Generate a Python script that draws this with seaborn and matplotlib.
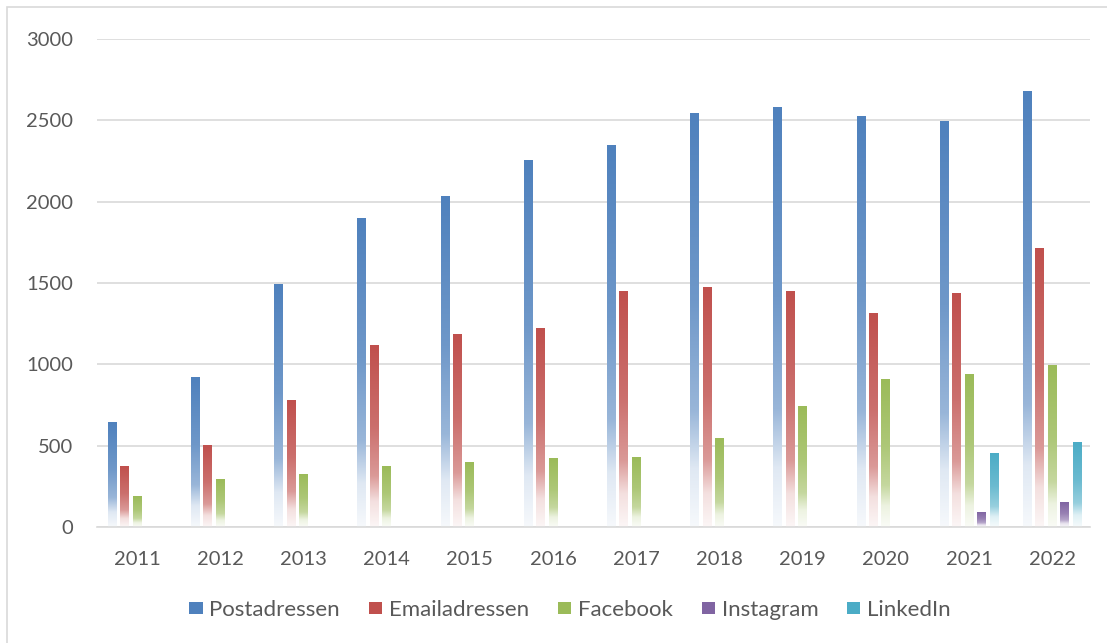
import numpy as np
import pandas as pd
import matplotlib
matplotlib.use('Agg')
import matplotlib.pyplot as plt
import seaborn as sns
from matplotlib.patches import Patch, Rectangle
from matplotlib.colors import to_rgb

# --- DATA ---
years = ['2011', '2012', '2013', '2014', '2015', '2016',
         '2017', '2018', '2019', '2020', '2021', '2022']
postadressen = [645, 922, 1490, 1895, 2030, 2255, 2345, 2540, 2580, 2525, 2495, 2680]
emailadressen = [375, 498, 780, 1115, 1185, 1220, 1450, 1475, 1450, 1315, 1438, 1715]
facebook = [190, 295, 325, 375, 395, 420, 430, 545, 740, 905, 940, 990]
instagram = [np.nan] * 10 + [92, 148]
linkedin = [np.nan] * 10 + [449, 522]

series_names = ['Postadressen', 'Emailadressen', 'Facebook', 'Instagram', 'LinkedIn']
series_values = [postadressen, emailadressen, facebook, instagram, linkedin]
colors = ['#4F81BD', '#C0504D', '#9BBB59', '#8064A2', '#4BACC6']

rows = []
for name, vals in zip(series_names, series_values):
    for y, v in zip(years, vals):
        rows.append({'year': y, 'serie': name, 'value': v})
df = pd.DataFrame(rows)

sns.set_style('white')
plt.rcParams['font.family'] = ['Lato', 'DejaVu Sans']
text_col = '#595959'

fig = plt.figure(figsize=(11.07, 6.43), dpi=100)
ax = fig.add_axes([97 / 1107, (643 - 527) / 643, 993 / 1107, 488 / 643])

sns.barplot(data=df, x='year', y='value', hue='serie', hue_order=series_names,
            order=years, palette=colors, saturation=1, width=0.75, gap=0.32,
            legend=False, ax=ax)

# replace solid fill with a vertical gradient (colour at top, white at bottom)
stops_t = np.array([0.0, 0.45, 0.72, 0.86, 1.0])
stops_m = np.array([1.0, 0.82, 0.58, 0.18, 0.05])
n = 200
t = np.linspace(0, 1, n)
mix = np.interp(t, stops_t, stops_m)
for p in ax.patches:
    h = p.get_height()
    if not np.isfinite(h) or h <= 0:
        continue
    base = np.array(to_rgb(p.get_facecolor()))
    img = (1 - mix[:, None]) * 1.0 + mix[:, None] * base[None, :]
    img = img[:, None, :]
    x0 = p.get_x()
    w = p.get_width()
    ax.imshow(img, extent=[x0, x0 + w, 0, h], aspect='auto',
              origin='upper', zorder=2, interpolation='bilinear')
    p.set_visible(False)

ax.set_xlim(-0.48, 11.455)
ax.set_ylim(0, 3000)
ax.set_yticks([0, 500, 1000, 1500, 2000, 2500, 3000])
ax.yaxis.grid(True, color='#D9D9D9', linewidth=1.2)
ax.set_axisbelow(True)
for s in ['left', 'right', 'top']:
    ax.spines[s].set_visible(False)
ax.spines['bottom'].set_color('#D9D9D9')
ax.spines['bottom'].set_linewidth(1.2)
ax.tick_params(axis='both', length=0, labelsize=14.5, labelcolor=text_col)
ax.tick_params(axis='y', pad=17)
ax.tick_params(axis='x', pad=17)
ax.set_xlabel('')
ax.set_ylabel('')

# legend
handles = [Patch(facecolor=c, edgecolor='none') for c in colors]
fig.legend(handles, series_names, loc='center', bbox_to_anchor=(570 / 1107, 1 - 610 / 643),
           ncol=5, frameon=False, fontsize=16, labelcolor=text_col,
           handlelength=0.6, handleheight=0.5, handletextpad=0.3, columnspacing=1.3)

# chart border
fig.patches.append(Rectangle((7 / 1107, -0.1), 1.2, 1 - 7 / 643 + 0.1,
                             transform=fig.transFigure, fill=False,
                             edgecolor='#D9D9D9', linewidth=1.2))

fig.savefig('out.png', dpi=100)
plt.close(fig)
